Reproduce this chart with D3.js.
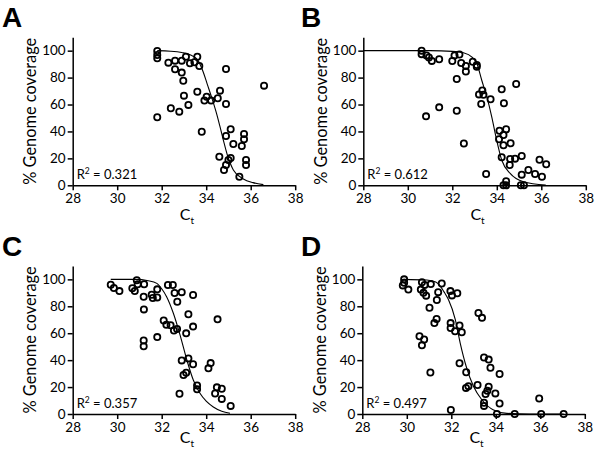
<!DOCTYPE html>
<html><head><meta charset="utf-8">
<script src="https://cdn.jsdelivr.net/npm/d3@7"></script>
<style>body{margin:0;background:#fff}svg{display:block}</style>
</head><body><svg id="c" width="600" height="462"></svg>
<script>
const ctTicks = [28, 30, 32, 34, 36, 38];
const covTicks = [0, 20, 40, 60, 80, 100];
const panelLabels = ["A", "B", "C", "D"];
const r2Labels = ["0.321", "0.612", "0.357", "0.497"];

const pointsA = [[31.8,99.8],[31.8,96.8],[31.8,94.3],[31.8,50.5],[32.3,91.1],[32.41,57.2],[32.6,92.6],[32.6,86.2],[32.79,54.7],
[32.9,92.6],[33.09,95.5],[33.27,90.6],[33.47,91.4],[33.6,95.5],[33.69,88.6],[32.9,83.7],[32.97,77.7],[33.0,66.6],[33.2,59.7],
[33.6,69.5],[33.8,39.8],[33.92,62.9],[34.02,65.8],[34.22,62.9],[34.52,64.6],[34.62,70.3],[34.89,86.4],[34.89,60.4],[34.59,21.2],
[34.89,15.1],[34.8,11.4],[35.0,18.8],[35.1,20.3],[35.1,41.6],[34.89,36.6],[35.22,30.7],[35.6,29.2],[35.7,38.1],[35.7,34.2],
[35.79,18.8],[35.79,15.1],[35.49,6.4],[36.6,74]];
const pointsB = [[30.62,100],[30.62,97.4],[30.84,96.5],[30.95,95],[31.08,92.4],[31.41,93.6],[30.82,51.2],[31.41,57.9],
[32.0,92.3],[32.1,96.5],[32.32,97.2],[32.4,90.8],[32.61,88.7],[32.61,84.5],[32.92,91.8],[33.1,89.4],[33.1,88.1],
[32.2,79],[32.2,55.4],[32.52,31],[33.2,67.5],[33.35,70.5],[33.3,60.4],[33.4,67.2],[33.72,63.9],[33.52,8.4],
[34.22,71.3],[34.32,60.9],[34.87,75.2],[34.12,40.5],[34.42,41.6],[34.3,37.4],[34.1,34.2],[34.3,29.7],[34.62,31.2],
[34.22,20.8],[34.6,19.5],[34.82,19.8],[34.58,15.1],[35.12,21.8],[35.12,7.9],[35.42,11.4],[35.72,8.4],[35.92,19],[36.03,6.4],[36.22,15.6],
[34.42,3],[34.3,0],[34.42,0],[35.08,0],[35.22,0]];
const pointsC = [[29.71,96],[29.85,93.6],[30.1,91.3],[30.68,93.4],[30.79,91.3],[30.88,99.4],[30.92,96.4],[31.21,96.4],[31.19,87.1],[31.2,77.7],[31.19,54.6],[31.19,50.3],
[31.55,88.6],[31.6,86.2],[31.8,92.6],[31.8,86.6],[31.8,57.1],[32.09,69.5],[32.21,66.3],[32.4,65.9],[32.55,62],[32.69,63.2],
[32.28,95.8],[32.5,95.8],[32.58,89.9],[32.7,83.4],[32.9,90.5],[33.41,88.4],[33.2,74.1],[33.41,64.9],[33.1,59.9],
[32.9,39.8],[33.2,41.3],[33.41,37],[32.98,29],[33.1,30.7],[32.8,15],[33.59,21.2],[33.59,18.3],[34.1,33.9],[34.2,37.8],[34.51,70.3],
[34.48,19.8],[34.4,15.2],[34.7,18.7],[34.7,11.2],[35.1,6]];
const pointsD = [[29.88,100],[29.88,97.4],[29.82,95.5],[30.07,92.4],[30.68,97.9],[30.8,95.9],[30.63,92.4],[30.75,90],[30.87,87.9],
[31.08,96.5],[31.57,96.9],[31.41,90.5],[31.35,84.7],[31.02,78.9],[31.34,70.6],[31.24,67.5],[30.57,57.8],[30.78,55.3],[30.68,51],[31.06,30.8],
[31.96,91.3],[32.03,88.1],[32.27,89.7],[31.97,67.5],[31.97,63.9],[32.17,61.5],[32.37,65.7],[32.47,60.7],
[32.37,37.7],[32.67,31],[32.66,19.4],[32.77,20.7],[33.18,21.5],[33.22,75],[33.38,71.4],
[33.47,42],[33.68,40.4],[33.76,34.3],[33.68,20.2],[33.62,17.2],[33.54,14.8],[33.47,8.4],[33.47,6],
[33.98,15.3],[34.17,29.7],[34.17,7.8],[34.05,0],[34.85,0],[31.98,3],[35.95,11.5],[36.04,0],[37.05,0]];

const curveA = [[31.8,100],[32.4,99.6],[32.9,98.6],[33.3,96.8],[33.6,93.5],[33.87,84],[34.05,75],[34.25,65],[34.47,53],[34.62,43.5],[34.77,33.6],[34.95,22.5],[35.22,11.4],[35.67,4.7],[36.1,2],[36.57,0.5]];
const curveB = [[28,100],[31,100],[32,99.5],[32.5,98.5],[32.9,95],[33.1,90.6],[33.32,78.2],[33.55,65.8],[33.77,51],[33.96,36.1],[34.22,18.8],[34.6,8.9],[35.2,2.7],[36.2,0.2]];
const curveC = [[29.71,100],[30.8,100],[31.4,99],[31.78,97],[32.0,93],[32.22,87.1],[32.52,75],[32.82,59],[33.15,39],[33.42,25.2],[33.72,15.4],[34.0,9.5],[34.32,5.2],[34.7,2],[35.07,0.5]];
const curveD = [[29.85,100],[30.9,99.5],[31.3,98],[31.5,95],[31.7,90],[31.87,85],[32.18,70.1],[32.4,52.7],[32.67,35.3],[33.0,20.4],[33.38,10.4],[33.9,3],[34.5,0.5],[35.5,0],[37.05,0]];

const panels = [
  {label: panelLabels[0], r2: r2Labels[0], pts: pointsA, fit: curveA, ox: 72.7, oy: 185.3, lx: 2, ly: 27, xlab: 220},
  {label: panelLabels[1], r2: r2Labels[1], pts: pointsB, fit: curveB, ox: 363.3, oy: 185.3, lx: 301, ly: 27, xlab: 220},
  {label: panelLabels[2], r2: r2Labels[2], pts: pointsC, fit: curveC, ox: 72.7, oy: 414, lx: 2, ly: 256, xlab: 443},
  {label: panelLabels[3], r2: r2Labels[3], pts: pointsD, fit: curveD, ox: 362.3, oy: 414, lx: 301, ly: 256, xlab: 443}
];

const svg = d3.select("#c");
const FONT = "Lato, 'Open Sans', sans-serif";

panels.forEach(p => {
  const x = d3.scaleLinear().domain([28, 38]).range([p.ox, p.ox + 222.5]);
  const y = d3.scaleLinear().domain([0, 110]).range([p.oy, p.oy - 148.1]);
  const g = svg.append("g");

  const ya = g.append("g").attr("transform", `translate(${p.ox},0)`)
    .call(d3.axisLeft(y).tickValues(covTicks).tickSize(5).tickSizeOuter(0).tickPadding(2));
  const xa = g.append("g").attr("transform", `translate(0,${p.oy})`)
    .call(d3.axisBottom(x).tickValues(ctTicks).tickSize(5).tickSizeOuter(0).tickPadding(3));
  [ya, xa].forEach(a => {
    a.selectAll("path,line").attr("stroke", "#000").attr("stroke-width", 1.5);
    a.selectAll("text").attr("fill", "#000").style("font-family", FONT).style("font-size", "13.5px");
  });

  g.append("path").datum(p.fit)
    .attr("fill", "none").attr("stroke", "#000").attr("stroke-width", 1.1)
    .attr("d", d3.line().x(d => x(d[0])).y(d => y(d[1])).curve(d3.curveMonotoneX));

  g.selectAll("circle").data(p.pts).join("circle")
    .attr("cx", d => x(d[0])).attr("cy", d => y(d[1])).attr("r", 3.1)
    .attr("fill", "none").attr("stroke", "#000").attr("stroke-width", 1.8);

  // panel letter
  g.append("text").attr("x", p.lx).attr("y", p.ly).text(p.label)
    .style("font-family", "'Liberation Sans', Arial, sans-serif").style("font-weight", 700).style("font-size", "28px");

  // y label
  const yl = g.append("text")
    .attr("transform", `translate(${p.ox - 36.5},${(y(0) + y(110)) / 2}) rotate(-90)`)
    .attr("text-anchor", "middle").style("font-family", FONT).style("font-size", "16px")
    .text("% Genome coverage");
  const len = yl.node().getComputedTextLength();
  yl.style("font-size", (16 * 147 / len).toFixed(2) + "px");

  // x label C_t
  const xl = g.append("text").attr("x", (x(28) + x(38)) / 2 + 3).attr("y", p.xlab)
    .attr("text-anchor", "middle").style("font-family", FONT).style("font-size", "16px");
  xl.append("tspan").text("C");
  xl.append("tspan").attr("dy", 4).style("font-size", "10px").text("t");

  // R^2
  const rt = g.append("text").attr("x", p.ox + 4).attr("y", p.oy - 6.5)
    .style("font-family", FONT).style("font-size", "13px");
  rt.append("tspan").text("R");
  rt.append("tspan").attr("dy", -5).style("font-size", "8.5px").text("2");
  rt.append("tspan").attr("dy", 5).text(" = " + p.r2);
});
</script></body></html>
